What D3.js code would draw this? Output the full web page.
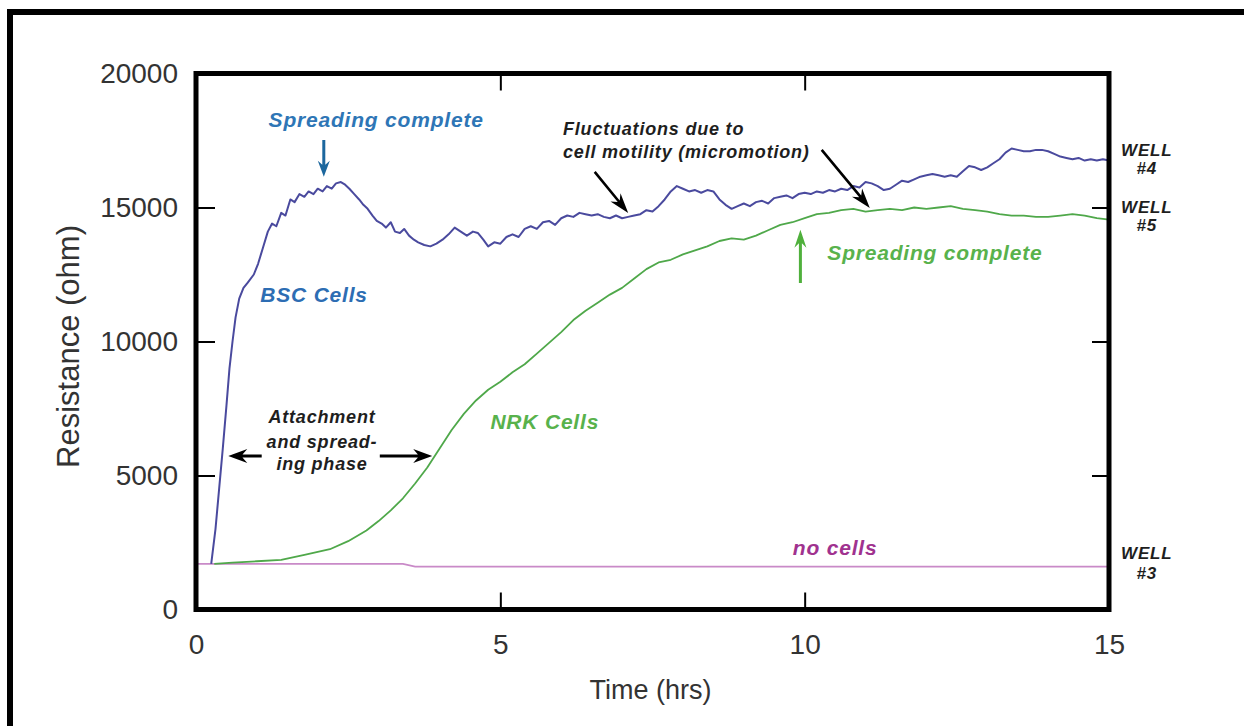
<!DOCTYPE html>
<html>
<head>
<meta charset="utf-8">
<script src="https://cdn.jsdelivr.net/npm/d3@7"></script>
<style>
  html, body { margin: 0; padding: 0; background: #fff; }
  svg { display: block; }
  text { font-family: "Liberation Sans", Arial, Helvetica, sans-serif; }
</style>
</head>
<body>
<svg id="chart" width="1244" height="726"></svg>
<script>
// ---------------- data ----------------
const xTicks = [0, 5, 10, 15];
const yTicks = [0, 5000, 10000, 15000, 20000];

// BSC cells (well #4): [time (hrs), resistance (ohm)]
const bscTime = [0.25,0.32,0.38,0.44,0.50,0.55,0.60,0.65,0.71,0.78,0.85,0.95,1.02,1.10,1.18,1.25,1.32,1.40,1.47,1.55,1.62,1.70,1.78,1.85,1.93,2.00,2.08,2.15,2.23,2.30,2.38,2.45,2.52,2.60,2.68,2.75,2.82,2.90,2.97,3.05,3.12,3.20,3.27,3.35,3.42,3.50,3.58,3.65,3.75,3.85,3.95,4.05,4.15,4.25,4.35,4.45,4.55,4.63,4.72,4.80,4.90,5.00,5.10,5.20,5.30,5.40,5.50,5.60,5.70,5.80,5.90,6.00,6.10,6.20,6.30,6.40,6.50,6.60,6.70,6.80,6.90,7.00,7.10,7.20,7.30,7.40,7.50,7.60,7.70,7.80,7.90,8.00,8.10,8.20,8.30,8.40,8.50,8.60,8.70,8.80,8.90,9.00,9.10,9.20,9.30,9.40,9.50,9.60,9.70,9.80,9.90,10.0,10.1,10.2,10.3,10.4,10.5,10.6,10.7,10.8,10.9,11.0,11.1,11.2,11.3,11.4,11.5,11.6,11.7,11.8,11.9,12.0,12.1,12.2,12.3,12.4,12.5,12.6,12.7,12.8,12.9,13.0,13.1,13.2,13.3,13.4,13.5,13.6,13.7,13.8,13.9,14.0,14.1,14.2,14.3,14.4,14.5,14.6,14.7,14.8,14.9,15.0];
const bscValues = [1700,3000,4500,6000,7600,9000,10000,10900,11600,12000,12200,12500,12900,13500,14100,14400,14300,14800,14700,15300,15200,15500,15400,15600,15500,15700,15600,15800,15700,15900,15950,15850,15700,15500,15300,15100,14950,14700,14500,14400,14250,14450,14100,14050,14200,13950,13800,13700,13600,13550,13650,13800,14000,14250,14100,13950,14100,14050,13800,13550,13700,13650,13900,14000,13900,14200,14300,14200,14450,14500,14350,14600,14700,14650,14800,14750,14700,14750,14650,14600,14700,14600,14650,14700,14750,14900,14850,15050,15300,15600,15800,15700,15600,15650,15550,15650,15600,15300,15100,14950,15050,15150,15050,15200,15250,15150,15350,15400,15450,15350,15500,15550,15500,15600,15550,15650,15600,15700,15650,15800,15750,15950,15900,15800,15650,15700,15850,16000,15950,16050,16150,16200,16250,16200,16150,16200,16150,16350,16550,16500,16400,16500,16650,16800,17050,17200,17150,17100,17100,17150,17150,17100,17000,16900,16850,16800,16850,16750,16800,16750,16800,16750];

// NRK cells (well #5)
const nrkTime = [0.30,0.6,1.0,1.4,1.8,2.2,2.5,2.8,3.0,3.2,3.4,3.6,3.8,4.0,4.2,4.4,4.6,4.8,5.0,5.2,5.4,5.6,5.8,6.0,6.2,6.4,6.6,6.8,7.0,7.2,7.4,7.6,7.8,8.0,8.2,8.4,8.6,8.8,9.0,9.2,9.4,9.6,9.8,10.0,10.2,10.4,10.6,10.8,11.0,11.2,11.4,11.6,11.8,12.0,12.2,12.4,12.6,12.8,13.0,13.2,13.4,13.6,13.8,14.0,14.2,14.4,14.6,14.8,15.0];
const nrkValues = [1700,1750,1800,1850,2050,2250,2550,2950,3300,3700,4150,4700,5300,6000,6700,7300,7800,8200,8500,8850,9150,9550,9950,10350,10800,11150,11450,11750,12000,12350,12700,12950,13050,13250,13400,13550,13750,13850,13800,13950,14150,14350,14450,14600,14750,14800,14900,14950,14850,14900,14950,14900,15000,14950,15000,15050,14950,14900,14850,14750,14700,14700,14650,14650,14700,14750,14700,14600,14550];

// no cells (well #3)
const noCellTime = [0, 3.4, 3.6, 15];
const noCellValues = [1700, 1700, 1600, 1600];

// ---------------- layout ----------------
const svg = d3.select("#chart");
const W = 1244, H = 726;
const plot = { left: 196, right: 1109, top: 73.5, bottom: 609.5 };

const x = d3.scaleLinear().domain([0, 15]).range([plot.left, plot.right]);
const y = d3.scaleLinear().domain([0, 20000]).range([plot.bottom, plot.top]);

svg.append("rect").attr("width", W).attr("height", H).attr("fill", "#fff");

// outer picture frame (left + top)
svg.append("path")
  .attr("d", `M10,${H} L10,12 L${W},12`)
  .attr("fill", "none").attr("stroke", "#000").attr("stroke-width", 6);

const fontFamily = '"Liberation Sans", Arial, Helvetica, sans-serif';

// axes (inward ticks)
const tickCol = "#000";
function styleAxis(g, showText) {
  g.select(".domain").remove();
  g.selectAll(".tick line").attr("stroke", tickCol).attr("stroke-width", 2);
  g.selectAll("text")
    .attr("fill", "#333")
    .style("font-family", fontFamily)
    .style("font-size", "28px");
  if (!showText) g.selectAll("text").remove();
}

svg.append("g")
  .attr("transform", `translate(${plot.left},0)`)
  .call(d3.axisLeft(y).tickValues(yTicks).tickSize(-19).tickPadding(18).tickFormat(d3.format("d")))
  .call(g => styleAxis(g, true));

svg.append("g")
  .attr("transform", `translate(${plot.right},0)`)
  .call(d3.axisRight(y).tickValues(yTicks).tickSize(-17))
  .call(g => styleAxis(g, false));

svg.append("g")
  .attr("transform", `translate(0,${plot.bottom})`)
  .call(d3.axisBottom(x).tickValues(xTicks).tickSize(-17).tickPadding(25).tickFormat(d3.format("d")))
  .call(g => styleAxis(g, true));

svg.append("g")
  .attr("transform", `translate(0,${plot.top})`)
  .call(d3.axisTop(x).tickValues(xTicks).tickSize(-17))
  .call(g => styleAxis(g, false));

// axis titles
svg.append("text")
  .attr("transform", `translate(68,${(plot.top + plot.bottom) / 2 + 5}) rotate(-90)`)
  .attr("text-anchor", "middle").attr("dominant-baseline", "central")
  .attr("fill", "#333").style("font-size", "31px")
  .text("Resistance (ohm)");

svg.append("text")
  .attr("x", (plot.left + plot.right) / 2 - 2).attr("y", 699)
  .attr("text-anchor", "middle")
  .attr("fill", "#333").style("font-size", "27px")
  .text("Time (hrs)");

// lines
const line = d3.line().x(d => x(d[0])).y(d => y(d[1]));
const zip = (a, b) => a.map((t, i) => [t, b[i]]);

svg.append("path").datum(zip(noCellTime, noCellValues))
  .attr("d", line).attr("fill", "none")
  .attr("stroke", "#c98ac8").attr("stroke-width", 1.8);

svg.append("path").datum(zip(nrkTime, nrkValues))
  .attr("d", line).attr("fill", "none")
  .attr("stroke", "#4fa84a").attr("stroke-width", 1.8).attr("stroke-linejoin", "round");

svg.append("path").datum(zip(bscTime, bscValues))
  .attr("d", line).attr("fill", "none")
  .attr("stroke", "#4a4a9e").attr("stroke-width", 2).attr("stroke-linejoin", "round");

// plot frame
svg.append("rect")
  .attr("x", plot.left).attr("y", plot.top)
  .attr("width", plot.right - plot.left).attr("height", plot.bottom - plot.top)
  .attr("fill", "none").attr("stroke", "#000").attr("stroke-width", 5);

// ---------------- annotations (data coordinates) ----------------
const blueText = "#2e76b6";
const greenText = "#58b24c";
const blackText = "#1e1e1e";
const magentaText = "#a0328f";

const labels = [
  { t: "Spreading complete", x: 2.96, y: 18000, c: blueText, s: 21, a: "middle" },
  { t: "BSC Cells", x: 1.94, y: 11470, c: "#2d6db3", s: 21, a: "middle" },
  { t: "Fluctuations due to", x: 6.03, y: 17700, c: blackText, s: 18, a: "start" },
  { t: "cell motility (micromotion)", x: 6.03, y: 16850, c: blackText, s: 18, a: "start" },
  { t: "Spreading complete", x: 12.14, y: 13050, c: greenText, s: 21, a: "middle" },
  { t: "NRK Cells", x: 5.73, y: 6740, c: greenText, s: 21, a: "middle" },
  { t: "Attachment", x: 2.07, y: 6960, c: blackText, s: 18, a: "middle" },
  { t: "and spread-", x: 2.07, y: 6030, c: blackText, s: 18, a: "middle" },
  { t: "ing phase", x: 2.07, y: 5200, c: blackText, s: 18, a: "middle" },
  { t: "no cells", x: 10.5, y: 2030, c: magentaText, s: 21, a: "middle" },
  { t: "WELL", x: 15.62, y: 16920, c: blackText, s: 17, a: "middle" },
  { t: "#4", x: 15.62, y: 16250, c: blackText, s: 17, a: "middle" },
  { t: "WELL", x: 15.62, y: 14800, c: blackText, s: 17, a: "middle" },
  { t: "#5", x: 15.62, y: 14120, c: blackText, s: 17, a: "middle" },
  { t: "WELL", x: 15.62, y: 1880, c: blackText, s: 17, a: "middle" },
  { t: "#3", x: 15.62, y: 1140, c: blackText, s: 17, a: "middle" }
];

svg.append("g").selectAll("text").data(labels).join("text")
  .attr("x", d => x(d.x)).attr("y", d => y(d.y))
  .attr("text-anchor", d => d.a)
  .attr("fill", d => d.c)
  .style("font-size", d => d.s + "px")
  .style("font-weight", "bold").style("font-style", "italic")
  .style("letter-spacing", "0.8px")
  .text(d => d.t);

// arrows: tail (x1,y1) -> head (x2,y2), data coordinates
const arrows = [
  { x1: 2.10, y1: 17520, x2: 2.10, y2: 16150, c: "#1c679e", w: 3, hl: 16, hw: 12 },
  { x1: 6.55, y1: 16330, x2: 7.10, y2: 14800, c: "#000", w: 2.6, hl: 20, hw: 13 },
  { x1: 10.28, y1: 17150, x2: 11.07, y2: 14980, c: "#000", w: 2.6, hl: 20, hw: 13 },
  { x1: 9.93, y1: 12180, x2: 9.93, y2: 14170, c: "#4fb03c", w: 3, hl: 18, hw: 12 },
  { x1: 1.08, y1: 5730, x2: 0.53, y2: 5730, c: "#000", w: 3, hl: 19, hw: 14 },
  { x1: 3.02, y1: 5730, x2: 3.88, y2: 5730, c: "#000", w: 3, hl: 19, hw: 14 }
];

function arrowPath(d) {
  const ax = x(d.x1), ay = y(d.y1), bx = x(d.x2), by = y(d.y2);
  const dx = bx - ax, dy = by - ay, L = Math.hypot(dx, dy);
  const ux = dx / L, uy = dy / L, px = -uy, py = ux;
  const baseX = bx - ux * d.hl, baseY = by - uy * d.hl;
  const notchX = bx - ux * d.hl * 0.75, notchY = by - uy * d.hl * 0.75;
  const hw = d.hw / 2, sw = d.w / 2;
  return [
    [ax + px * sw, ay + py * sw],
    [notchX + px * sw, notchY + py * sw],
    [baseX + px * hw, baseY + py * hw],
    [bx, by],
    [baseX - px * hw, baseY - py * hw],
    [notchX - px * sw, notchY - py * sw],
    [ax - px * sw, ay - py * sw]
  ].map((p, i) => (i ? "L" : "M") + p[0].toFixed(1) + "," + p[1].toFixed(1)).join("") + "Z";
}

svg.append("g").selectAll("path").data(arrows).join("path")
  .attr("d", arrowPath)
  .attr("fill", d => d.c);
</script>
</body>
</html>
